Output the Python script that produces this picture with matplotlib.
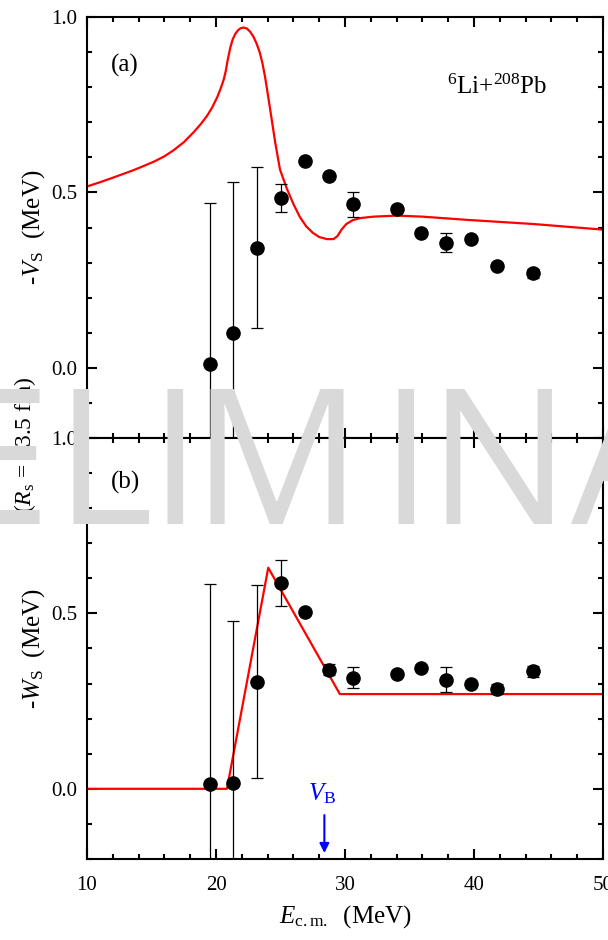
import matplotlib
matplotlib.use("Agg")
import matplotlib.pyplot as plt
from matplotlib.ticker import MultipleLocator, FormatStrFormatter

plt.rcParams['font.family'] = ['Liberation Serif', 'DejaVu Serif']
plt.rcParams['mathtext.fontset'] = 'custom'
plt.rcParams['mathtext.rm'] = 'Liberation Serif'
plt.rcParams['mathtext.it'] = 'Liberation Serif:italic'
plt.rcParams['mathtext.bf'] = 'Liberation Serif:bold'

# Measured energies (MeV, c.m.)
energy = [19.5, 21.3, 23.2, 25.05, 26.9, 28.75, 30.6, 34.0, 35.9, 37.8, 39.8, 41.8, 44.6]

# Real part of the surface potential, -V_S (MeV)
vs_val = [0.011, 0.100, 0.343, 0.483, 0.589, 0.546, 0.466, 0.454, 0.383, 0.357, 0.366, 0.291, 0.269]
vs_err = [0.460, 0.430, 0.230, 0.040, 0.000, 0.000, 0.035, 0.000, 0.000, 0.027, 0.000, 0.000, 0.013]

# Imaginary part of the surface potential, -W_S (MeV)
ws_val = [0.014, 0.017, 0.305, 0.586, 0.505, 0.340, 0.317, 0.326, 0.345, 0.311, 0.300, 0.285, 0.335]
ws_err = [0.570, 0.460, 0.275, 0.065, 0.000, 0.016, 0.030, 0.000, 0.000, 0.036, 0.000, 0.015, 0.015]

# Dispersive real part (curve)
vs_curve_e = [10.0, 11.0, 12.0, 12.6, 13.5, 14.3, 15.2, 16.0, 16.7, 17.5, 18.3, 18.8, 19.3, 19.7,
              20.1, 20.35, 20.6, 20.75, 20.9, 21.1, 21.3, 21.5, 21.7, 21.9, 22.15, 22.4, 22.65,
              22.9, 23.15, 23.4, 23.6, 23.8, 23.95, 24.15, 24.3, 24.6, 24.96, 25.5, 26.0, 26.5,
              27.0, 27.5, 28.0, 28.6, 29.1, 29.4, 29.75, 30.1, 30.6, 31.2, 32.2, 34.0, 36.0,
              39.4, 44.6, 50.0]
vs_curve_v = [0.517, 0.529, 0.542, 0.550, 0.562, 0.574, 0.588, 0.603, 0.620, 0.643, 0.673, 0.694,
              0.718, 0.742, 0.772, 0.795, 0.822, 0.845, 0.876, 0.912, 0.937, 0.952, 0.962, 0.968,
              0.970, 0.967, 0.958, 0.944, 0.924, 0.898, 0.868, 0.830, 0.795, 0.748, 0.712, 0.640,
              0.565, 0.510, 0.467, 0.430, 0.403, 0.385, 0.373, 0.367, 0.367, 0.375, 0.395, 0.410,
              0.421, 0.427, 0.431, 0.434, 0.431, 0.422, 0.410, 0.394]

# Piecewise-linear imaginary part
ws_line_e = [10.0, 20.85, 24.05, 29.6, 50.0]
ws_line_v = [0.0, 0.0, 0.63, 0.27, 0.27]

# Coulomb barrier
v_barrier = 28.4

fig = plt.figure(figsize=(6.08, 9.40), dpi=100)
ax1 = fig.add_axes([0.1431, 0.5340, 0.8487, 0.4479])
ax2 = fig.add_axes([0.1431, 0.0862, 0.8487, 0.4479])

for ax in (ax1, ax2):
    ax.set_xlim(10, 50)
    ax.set_ylim(-0.2, 1.0)
    ax.xaxis.set_major_locator(MultipleLocator(10))
    ax.xaxis.set_minor_locator(MultipleLocator(2))
    ax.set_yticks([0.0, 0.5, 1.0])
    ax.yaxis.set_minor_locator(MultipleLocator(0.1))
    ax.yaxis.set_major_formatter(FormatStrFormatter('%.1f'))
    ax.tick_params(which='both', direction='in', top=True, right=True, width=1.5)
    ax.tick_params(which='major', length=7, labelsize=15)
    ax.tick_params(which='minor', length=3.5)
    ax.tick_params(axis='y', pad=7)
    ax.tick_params(axis='x', pad=12)
    for sp in ax.spines.values():
        sp.set_linewidth(1.5)

ax1.tick_params(labelbottom=False)

# Panel (a)
ax1.plot(vs_curve_e, vs_curve_v, color='red', lw=1.6, zorder=2)
ax1.errorbar(energy, vs_val, yerr=vs_err, fmt='o', color='black', ms=9.5,
             elinewidth=0.9, capsize=4, capthick=0.9, zorder=3)
ax1.text(0.074, 0.886, '(a)', transform=ax1.transAxes, fontsize=18, ha='center', va='center')
ax1.text(0.795, 0.835, r'$^{6}$Li+$^{208}$Pb', transform=ax1.transAxes, fontsize=18,
         ha='center', va='center')
ax1.set_ylabel(r'-$V_{\rm S}$  (MeV)', fontsize=18, labelpad=3)

# Panel (b)
ax2.plot(ws_line_e, ws_line_v, color='red', lw=1.6, zorder=2)
ax2.errorbar(energy, ws_val, yerr=ws_err, fmt='o', color='black', ms=9.5,
             elinewidth=0.9, capsize=4, capthick=0.9, zorder=3)
ax2.text(0.074, 0.895, '(b)', transform=ax2.transAxes, fontsize=18, ha='center', va='center')
ax2.set_ylabel(r'-$W_{\rm S}$  (MeV)', fontsize=18, labelpad=3)
ax2.set_xlabel(r'$E_{\rm c.m.}$  (MeV)', fontsize=18, labelpad=6)

ax2.annotate('', xy=(v_barrier, -0.183), xytext=(v_barrier, -0.075),
             arrowprops=dict(arrowstyle='-|>', color='blue', lw=1.5, mutation_scale=14,
                             shrinkA=0, shrinkB=0))
ax2.text(v_barrier - 0.15, -0.013, r'$V_{\rm B}$', color='blue', fontsize=18,
         ha='center', va='center')

# Surface radius note between the panels
fig.text(25 / 608, 1 - 445 / 940, r'($R_{\rm s}$ = 13.5 fm)', rotation=90, fontsize=17,
         ha='center', va='center')

# Watermark, letter by letter
mark_letters = ['P', 'R', 'E', 'L', 'I', 'M', 'I', 'N', 'A', 'R', 'Y']
mark_x_px = [-215, -105, -2, 104, 175, 276, 406, 499, 631, 745, 850]
for ch, xp in zip(mark_letters, mark_x_px):
    fig.text(xp / 608, 1 - 524 / 940, ch, fontsize=136, family='Open Sans',
             color='#d9d9d9', ha='center', va='baseline', zorder=20)

fig.savefig('out.png', dpi=100)
